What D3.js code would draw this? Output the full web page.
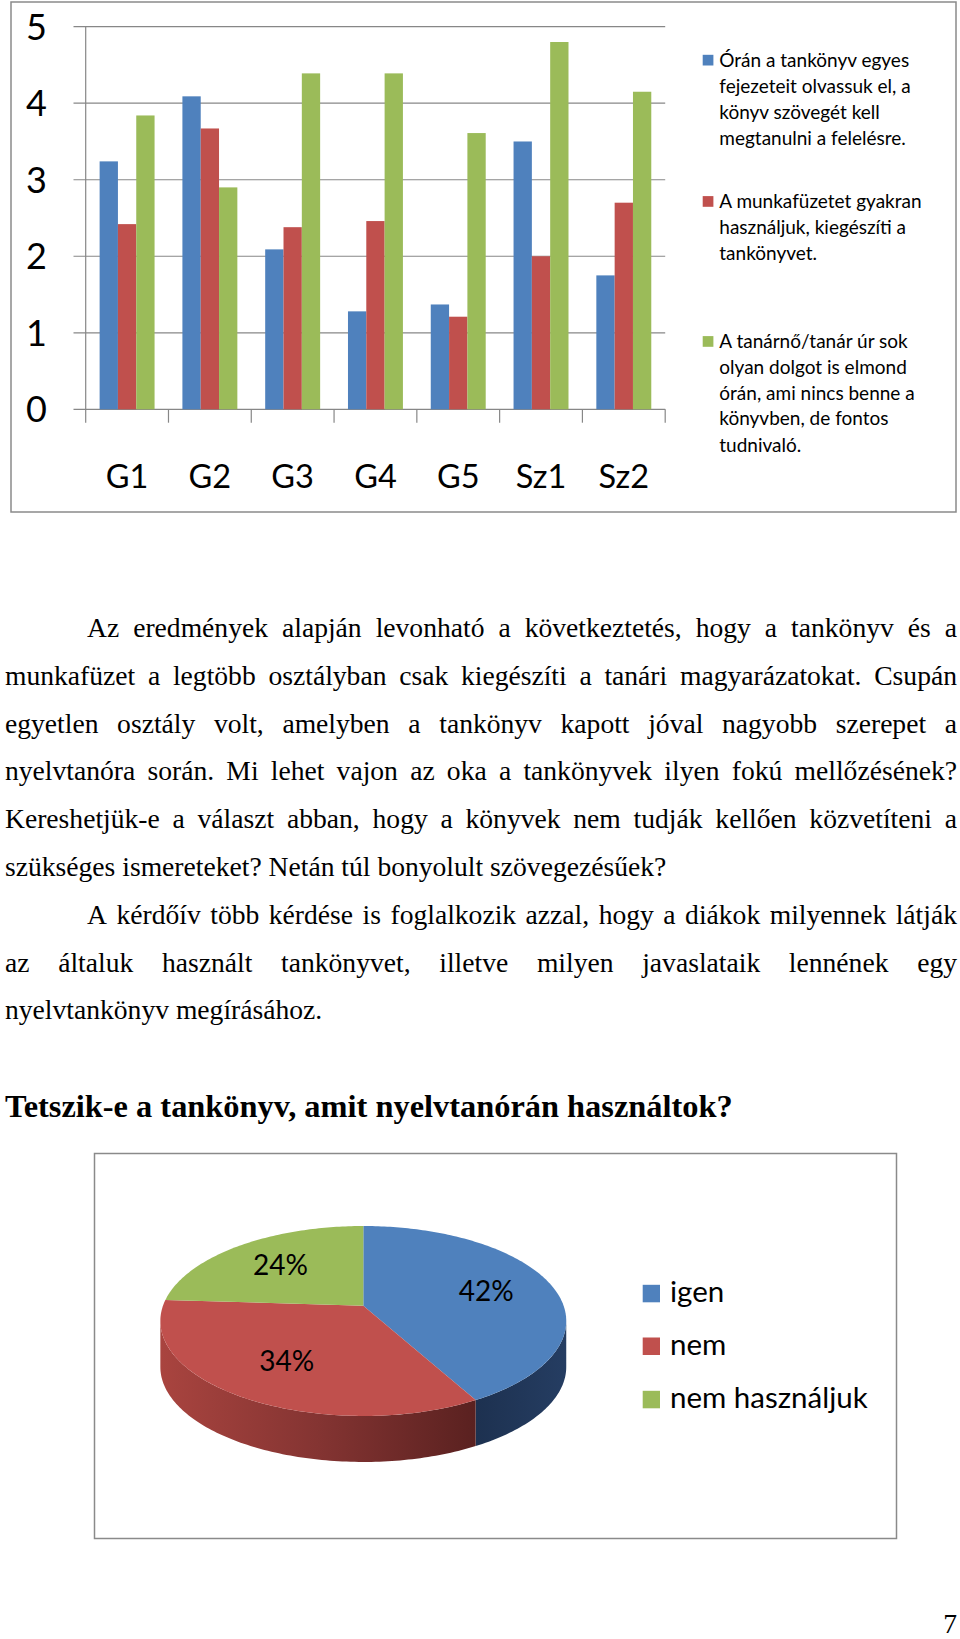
<!DOCTYPE html>
<html><head><meta charset="utf-8">
<script src="https://cdn.jsdelivr.net/npm/d3@7"></script>
<style>
html,body{margin:0;padding:0;background:#fff;}
svg{display:block;}
</style></head><body>
<svg id="page" width="960" height="1639"></svg>
<script>
// ---------- DATA ----------
const categories = ["G1", "G2", "G3", "G4", "G5", "Sz1", "Sz2"];
const seriesKeys = ["tankonyv", "munkafuzet", "tanar"];
const tankonyvValues   = [3.24, 4.09, 2.09, 1.28, 1.37, 3.50, 1.75];
const munkafuzetValues = [2.42, 3.67, 2.38, 2.46, 1.21, 2.00, 2.70];
const tanarValues      = [3.84, 2.90, 4.39, 4.39, 3.61, 4.80, 4.15];
const yTickValues = [0, 1, 2, 3, 4, 5];
const barLegendLines = [
  ["Órán a tankönyv egyes", "fejezeteit olvassuk el, a", "könyv szövegét kell", "megtanulni a felelésre."],
  ["A munkafüzetet gyakran", "használjuk, kiegészíti a", "tankönyvet."],
  ["A tanárnő/tanár úr sok", "olyan dolgot is elmond", "órán, ami nincs benne a", "könyvben, de fontos", "tudnivaló."]
];
const seriesColors = ["#4f81bd", "#c0504d", "#9bbb59"];

const paragraphLines = [
  {text: "Az eredmények alapján levonható a következtetés, hogy a tankönyv és a", indent: true, justify: true},
  {text: "munkafüzet a legtöbb osztályban csak kiegészíti a tanári magyarázatokat. Csupán", indent: false, justify: true},
  {text: "egyetlen osztály volt, amelyben a tankönyv kapott jóval nagyobb szerepet a", indent: false, justify: true},
  {text: "nyelvtanóra során. Mi lehet vajon az oka a tankönyvek ilyen fokú mellőzésének?", indent: false, justify: true},
  {text: "Kereshetjük-e a választ abban, hogy a könyvek nem tudják kellően közvetíteni a", indent: false, justify: true},
  {text: "szükséges ismereteket? Netán túl bonyolult szövegezésűek?", indent: false, justify: false},
  {text: "A kérdőív több kérdése is foglalkozik azzal, hogy a diákok milyennek látják", indent: true, justify: true},
  {text: "az általuk használt tankönyvet, illetve milyen javaslataik lennének egy", indent: false, justify: true},
  {text: "nyelvtankönyv megírásához.", indent: false, justify: false}
];
const headingText = "Tetszik-e a tankönyv, amit nyelvtanórán használtok?";
const pageNumber = "7";

const pieLabels = ["igen", "nem", "nem használjuk"];
const pieValues = [42, 34, 24];
const pieTopColors = ["#4f81bd", "#c0504d", "#9bbb59"];

// ---------- PAGE ----------
const svg = d3.select("#page");
const defs = svg.append("defs");
const sansFont = "Lato, 'Open Sans', sans-serif";

// ===== Bar chart =====
const bar = svg.append("g");
bar.append("rect").attr("x", 11).attr("y", 2).attr("width", 945).attr("height", 510)
  .attr("fill", "#fff").attr("stroke", "#8a8a8a").attr("stroke-width", 1.5);

const x0 = d3.scaleBand().domain(categories).range([85.7, 665.2]).paddingInner(0).paddingOuter(0);
const x1 = d3.scaleBand().domain(seriesKeys).range([0, x0.bandwidth()]).paddingInner(0).paddingOuter(0.76);
const y = d3.scaleLinear().domain([0, 5]).range([409.3, 26.7]);
const gridColor = "#878787";

bar.append("g").selectAll("line").data(yTickValues).join("line")
  .attr("x1", 73.5).attr("x2", x0.range()[1])
  .attr("y1", d => y(d)).attr("y2", d => y(d))
  .attr("stroke", gridColor).attr("stroke-width", 1.2);
bar.append("line").attr("x1", x0.range()[0]).attr("x2", x0.range()[0])
  .attr("y1", y(5)).attr("y2", y(0)).attr("stroke", gridColor).attr("stroke-width", 1.2);
const boundaries = categories.map(c => x0(c)).concat([x0.range()[1]]);
bar.append("g").selectAll("line").data(boundaries).join("line")
  .attr("x1", d => d).attr("x2", d => d).attr("y1", y(0)).attr("y2", y(0) + 13.4)
  .attr("stroke", gridColor).attr("stroke-width", 1.2);

const seriesData = [tankonyvValues, munkafuzetValues, tanarValues];
seriesKeys.forEach((k, si) => {
  bar.append("g").selectAll("rect").data(seriesData[si]).join("rect")
    .attr("x", (d, i) => x0(categories[i]) + x1(k))
    .attr("width", x1.bandwidth())
    .attr("y", d => y(d))
    .attr("height", d => y(0) - y(d))
    .attr("fill", seriesColors[si]);
});

bar.append("g").selectAll("text").data(yTickValues).join("text")
  .attr("x", 47).attr("y", d => y(d) + 13)
  .attr("text-anchor", "end")
  .attr("font-family", sansFont).attr("font-size", 36)
  .attr("fill", "#000").text(d => d);

bar.append("g").selectAll("text").data(categories).join("text")
  .attr("x", d => x0(d) + x0.bandwidth() / 2).attr("y", 488.4)
  .attr("text-anchor", "middle")
  .attr("font-family", sansFont).attr("font-size", 32.5)
  .attr("fill", "#000").text(d => d);

const legendBaselines = [[67, 93.3, 119.3, 145.3], [208.3, 233.8, 259.5], [348.3, 373.8, 399.5, 425.3, 451.5]];
barLegendLines.forEach((lines, si) => {
  const g = bar.append("g");
  g.append("rect").attr("x", 702.7).attr("y", legendBaselines[si][0] - 12.2)
    .attr("width", 10.7).attr("height", 10.7).attr("fill", seriesColors[si]);
  g.selectAll("text").data(lines).join("text")
    .attr("x", 719.3).attr("y", (d, i) => legendBaselines[si][i])
    .attr("font-family", sansFont).attr("font-size", 19)
    .attr("fill", "#000").text(d => d);
});

// ===== Paragraph text =====
const textG = svg.append("g");
const bodyFont = "'Liberation Serif', 'Times New Roman', serif";
const bodySize = 27.6;
const leftMargin = 5, rightMargin = 957, indentX = 87;
const firstBaseline = 637, lineStep = 47.8;

paragraphLines.forEach((ln, i) => {
  const by = firstBaseline + i * lineStep;
  const startX = ln.indent ? indentX : leftMargin;
  const words = ln.text.split(" ");
  const t = textG.append("text").attr("font-family", bodyFont).attr("font-size", bodySize).attr("fill", "#000");
  if (!ln.justify) {
    t.attr("x", startX).attr("y", by).text(ln.text);
    return;
  }
  const widths = words.map(w => {
    const tmp = textG.append("text").attr("font-family", bodyFont).attr("font-size", bodySize).text(w);
    const wd = tmp.node().getComputedTextLength();
    tmp.remove();
    return wd;
  });
  const total = d3.sum(widths);
  const gap = (rightMargin - startX - total) / (words.length - 1);
  let cx = startX;
  words.forEach((w, j) => {
    t.append("tspan").attr("x", cx).attr("y", by).text(w);
    cx += widths[j] + gap;
  });
});

svg.append("text").attr("x", 5).attr("y", 1116.5)
  .attr("font-family", bodyFont).attr("font-weight", "bold").attr("font-size", 32.4)
  .attr("fill", "#000").text(headingText);

svg.append("text").attr("x", 957).attr("y", 1633).attr("text-anchor", "end")
  .attr("font-family", bodyFont).attr("font-size", bodySize).attr("fill", "#000").text(pageNumber);

// ===== Pie chart (3D with perspective) =====
const pieG = svg.append("g");
pieG.append("rect").attr("x", 94.5).attr("y", 1153.5).attr("width", 802).attr("height", 385)
  .attr("fill", "#fff").attr("stroke", "#8a8a8a").attr("stroke-width", 1.5);

const P = [363.3, 1305.7];         // projected centre
const persp = -0.161, A = 200.3, B = 92.5, depth = 46;
function proj(theta, r = 1, dy = 0) {
  const u = r * Math.sin(theta), v = -r * Math.cos(theta);
  const dd = 1 + persp * v;
  return [P[0] + A * u / dd, P[1] + B * v / dd + dy];
}
function arcPts(a0, a1, r = 1, dy = 0) {
  const n = Math.max(2, Math.ceil((a1 - a0) / (Math.PI / 180)));
  return d3.range(n + 1).map(k => proj(a0 + (a1 - a0) * k / n, r, dy));
}
// silhouette extremes (tangent points)
const samples = d3.range(0, 3600).map(k => k * Math.PI / 1800);
const thetaR = samples[d3.maxIndex(samples, t => proj(t)[0])];
const thetaL = samples[d3.minIndex(samples, t => proj(t)[0])];

const pieArcs = d3.pie().sort(null).value(d => d)(pieValues);
const line = d3.line();

const xLeft = proj(thetaL)[0], xRight = proj(thetaR)[0];
const xBoundary = proj(pieArcs[0].endAngle)[0];
const gradRed = defs.append("linearGradient").attr("id", "redSide")
  .attr("gradientUnits", "userSpaceOnUse").attr("x1", xLeft).attr("x2", xBoundary).attr("y1", 0).attr("y2", 0);
gradRed.append("stop").attr("offset", 0).attr("stop-color", "#a9443f");
gradRed.append("stop").attr("offset", 0.5).attr("stop-color", "#843432");
gradRed.append("stop").attr("offset", 1).attr("stop-color", "#5a2120");
const gradBlue = defs.append("linearGradient").attr("id", "blueSide")
  .attr("gradientUnits", "userSpaceOnUse").attr("x1", xBoundary).attr("x2", xRight).attr("y1", 0).attr("y2", 0);
gradBlue.append("stop").attr("offset", 0).attr("stop-color", "#1d3150");
gradBlue.append("stop").attr("offset", 1).attr("stop-color", "#253d62");
const sideFills = ["url(#blueSide)", "url(#redSide)", "#6f8a3c"];

// sides
pieArcs.forEach((a, i) => {
  const s0 = Math.max(a.startAngle, thetaR), s1 = Math.min(a.endAngle, thetaL);
  if (s1 <= s0) return;
  const pts = arcPts(s0, s1).concat(arcPts(s0, s1, 1, depth).reverse());
  pieG.append("path").attr("d", line(pts) + "Z").attr("fill", sideFills[i]);
});

// top faces
pieArcs.forEach((a, i) => {
  const pts = [P].concat(arcPts(a.startAngle, a.endAngle));
  pieG.append("path").attr("d", line(pts) + "Z").attr("fill", pieTopColors[i]);
});

// data labels
const total = d3.sum(pieValues);
pieG.append("g").selectAll("text").data(pieArcs).join("text")
  .attr("x", d => proj((d.startAngle + d.endAngle) / 2, 0.65)[0])
  .attr("y", d => proj((d.startAngle + d.endAngle) / 2, 0.65)[1] + 10)
  .attr("text-anchor", "middle")
  .attr("font-family", sansFont).attr("font-size", 28)
  .attr("fill", "#000").text(d => Math.round(d.value / total * 100) + "%");

// legend
const pieLegendBase = [1302.3, 1355, 1408.3];
pieLabels.forEach((lab, i) => {
  pieG.append("rect").attr("x", 642.7).attr("y", pieLegendBase[i] - 17.5)
    .attr("width", 17.3).attr("height", 17.5).attr("fill", pieTopColors[i]);
  pieG.append("text").attr("x", 670).attr("y", pieLegendBase[i])
    .attr("font-family", sansFont).attr("font-size", 29.5)
    .attr("fill", "#000").text(lab);
});
</script>
</body></html>
